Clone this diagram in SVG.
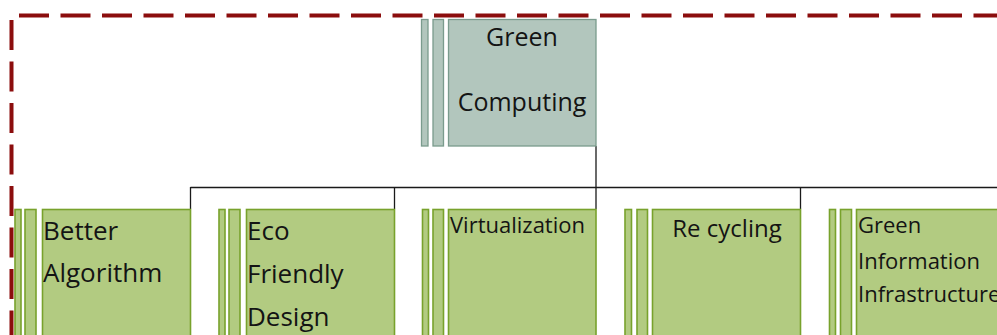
<svg xmlns="http://www.w3.org/2000/svg" width="997" height="335" viewBox="0 0 997 335">
  <style>
    .frame { fill: none; stroke: #8b0d0d; stroke-width: 4; stroke-dasharray: 30 11.5; }
    .root rect { fill: #b2c6bd; stroke: #7a9b8d; stroke-width: 1.3; }
    .leaf rect { fill: #b2cb81; stroke: #78a22c; stroke-width: 1.6; }
    .wire { fill: none; stroke: #1a1a1a; stroke-width: 1.3; }
    text { font-family: "Open Sans", "Noto Sans", sans-serif; fill: #141414; }
    .big { font-size: 25px; }
    .mid { font-size: 26px; }
    .small { font-size: 22px; }
  </style>

  <!-- dashed outer frame -->
  <g id="frame">
    <line class="frame" x1="19" y1="15.5" x2="1000" y2="15.5"/>
    <line class="frame" x1="11.5" y1="20" x2="11.5" y2="340"/>
  </g>

  <!-- elbow connectors -->
  <g id="connectors">
    <polyline class="wire" points="596,146 596,188"/>
    <line class="wire" x1="190.5" y1="187.5" x2="997" y2="187.5"/>
    <line class="wire" x1="190.5" y1="187" x2="190.5" y2="209"/>
    <line class="wire" x1="394.5" y1="187" x2="394.5" y2="209"/>
    <line class="wire" x1="596" y1="187" x2="596" y2="209"/>
    <line class="wire" x1="800.5" y1="187" x2="800.5" y2="209"/>
  </g>

  <g id="node-green-computing" class="root">
    <rect x="421.5" y="19.5" width="6.5" height="126.5"/>
    <rect x="433" y="19.5" width="10.5" height="126.5"/>
    <rect x="448.5" y="19.5" width="147.5" height="126.5"/>
    <text class="big" x="522" y="46" text-anchor="middle">Green</text>
    <text class="big" x="522" y="111" text-anchor="middle">Computing</text>
  </g>

  <g id="node-better-algorithm" class="leaf">
    <rect x="15" y="209.5" width="6" height="140"/>
    <rect x="25" y="209.5" width="11" height="140"/>
    <rect x="42.5" y="209.5" width="148" height="140"/>
    <text class="mid" x="43" y="240">Better</text>
    <text class="mid" x="43" y="282">Algorithm</text>
  </g>

  <g id="node-eco-friendly-design" class="leaf">
    <rect x="219" y="209.5" width="6" height="140"/>
    <rect x="229" y="209.5" width="11" height="140"/>
    <rect x="246.5" y="209.5" width="148" height="140"/>
    <text class="mid" x="247" y="240">Eco</text>
    <text class="mid" x="247" y="283">Friendly</text>
    <text class="mid" x="247" y="326">Design</text>
  </g>

  <g id="node-virtualization" class="leaf">
    <rect x="422.5" y="209.5" width="6" height="140"/>
    <rect x="433" y="209.5" width="10.5" height="140"/>
    <rect x="448.5" y="209.5" width="147.5" height="140"/>
    <text class="small" x="450" y="233">Virtualization</text>
  </g>

  <g id="node-re-cycling" class="leaf">
    <rect x="625" y="209.5" width="6.5" height="140"/>
    <rect x="637" y="209.5" width="10.5" height="140"/>
    <rect x="652.5" y="209.5" width="148" height="140"/>
    <text x="727" y="237" text-anchor="middle" font-size="24">Re cycling</text>
  </g>

  <g id="node-green-information-infrastructure" class="leaf">
    <rect x="829.5" y="209.5" width="6" height="140"/>
    <rect x="840.5" y="209.5" width="11" height="140"/>
    <rect x="856.5" y="209.5" width="148" height="140"/>
    <text class="small" x="858" y="233">Green</text>
    <text class="small" x="858" y="269">Information</text>
    <text class="small" x="858" y="302">Infrastructure</text>
  </g>
</svg>
